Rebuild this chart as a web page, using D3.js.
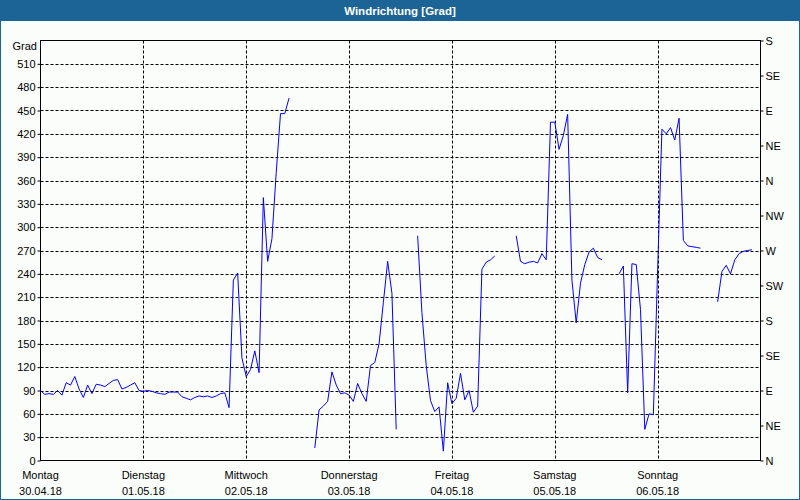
<!DOCTYPE html>
<html><head><meta charset="utf-8">
<script src="https://cdn.jsdelivr.net/npm/d3@7"></script>
<style>html,body{margin:0;padding:0;background:#fbfdfb;} svg{display:block}</style>
</head><body><svg id="c" width="800" height="500"></svg>
<script>
const title = "Windrichtung [Grad]";
const yUnit = "Grad";
const dayNames = ["Montag","Dienstag","Mittwoch","Donnerstag","Freitag","Samstag","Sonntag"];
const dayDates = ["30.04.18","01.05.18","02.05.18","03.05.18","04.05.18","05.05.18","06.05.18"];
const yTickValues = [0,30,60,90,120,150,180,210,240,270,300,330,360,390,420,450,480,510];
const compassValues = [0,45,90,135,180,225,270,315,360,405,450,495,540];
const compassLabels = ["N","NE","E","SE","S","SW","W","NW","N","NE","E","SE","S"];
const startDate = new Date(2018, 3, 30, 0, 0);
const dayCount = 7;
// hourly wind direction in degrees, null = no data
const windDirection = [
  90, 85, 86, 85, 90, 84, 100, 97, 108, 92,
  81, 97, 86, 98, 97, 95, 99, 103, 104, 92,
  94, 97, 100, 90, 89, 90, 89, 87, 86, 85,
  88, 88, 88, 82, 80, 78, 81, 83, 82, 83,
  81, 83, 86, 87, 68, 232, 241, 132, 108, 117,
  141, 113, 338, 256, 285, 370, 446, 446, 466, null,
  null, null, null, null, 16, 65, 70, 76, 114, 97,
  86, 87, 84, 76, 99, 86, 76, 122, 126, 150,
  203, 256, 215, 40, null, null, null, null, 289, 190,
  122, 77, 63, 69, 12, 100, 73, 80, 112, 78,
  90, 62, 70, 246, 255, 258, 263, null, null, null,
  null, 289, 256, 253, 255, 256, 254, 266, 258, 435,
  435, 400, 418, 445, 232, 177, 228, 252, 268, 273,
  261, 258, null, null, null, 240, 250, 87, 253, 252,
  194, 40, 60, 59, 245, 426, 420, 428, 412, 440,
  283, 276, 275, 274, 273, null, null, null, 204, 243,
  251, 240, 258, 266, 269, 270, 271, null
];

const W = 800, H = 500;
const font = "'Liberation Sans', Arial, sans-serif";
const svg = d3.select("#c");

// frame
svg.append("rect").attr("x",0).attr("y",0).attr("width",W).attr("height",H).attr("fill","#fbfdfb");
svg.append("rect").attr("x",0.5).attr("y",0.5).attr("width",W-1).attr("height",H-1)
  .attr("fill","none").attr("stroke","#1d6496");
svg.append("rect").attr("x",0).attr("y",0).attr("width",W).attr("height",21).attr("fill","#1d6496");
svg.append("text").attr("x",W/2).attr("y",11).attr("dy","0.36em").attr("text-anchor","middle")
  .attr("fill","#fff").attr("font-family",font).attr("font-weight","bold").attr("font-size","11.5px")
  .text(title);

const endDate = d3.timeDay.offset(startDate, dayCount);
const x = d3.scaleTime().domain([startDate, endDate]).range([40.5, 760.5]);
const y = d3.scaleLinear().domain([0, 540]).range([460.5, 40.5]);

const g = svg.append("g");
const dash = "3,2";

// horizontal gridlines
g.selectAll("line.hg").data(yTickValues.filter(v => v > 0)).join("line")
  .attr("x1", x.range()[0]).attr("x2", x.range()[1])
  .attr("y1", d => Math.round(y(d)) + 0.5).attr("y2", d => Math.round(y(d)) + 0.5)
  .attr("stroke","#000").attr("stroke-dasharray",dash);
// vertical gridlines
const days = d3.range(1, dayCount).map(i => d3.timeDay.offset(startDate, i));
g.selectAll("line.vg").data(days).join("line")
  .attr("x1", d => Math.round(x(d)) + 0.5).attr("x2", d => Math.round(x(d)) + 0.5)
  .attr("y1", y.range()[1]).attr("y2", y.range()[0])
  .attr("stroke","#000").attr("stroke-dasharray",dash);

// left axis
const leftAxis = d3.axisLeft(y).tickValues(yTickValues).tickSize(3).tickPadding(2);
const la = svg.append("g").attr("transform","translate(40.5,0)").call(leftAxis);
la.select(".domain").remove();
la.selectAll("text").attr("font-family",font).attr("font-size","11px").attr("fill","#000");
la.selectAll("line").attr("stroke","#000");
// right axis
const rightAxis = d3.axisRight(y).tickValues(compassValues).tickFormat((d,i) => compassLabels[i]).tickSize(3).tickPadding(2);
const ra = svg.append("g").attr("transform","translate(760.5,0)").call(rightAxis);
ra.select(".domain").remove();
ra.selectAll("text").attr("font-family",font).attr("font-size","11px").attr("fill","#000");
ra.selectAll("line").attr("stroke","#000");

// plot frame
svg.append("rect").attr("x",40.5).attr("y",40.5).attr("width",720).attr("height",420)
  .attr("fill","none").attr("stroke","#000");

svg.append("text").attr("x",37).attr("y",46).attr("dy","0.35em").attr("text-anchor","end")
  .attr("font-family",font).attr("font-size","11px").text(yUnit);

// bottom labels
const dayTicks = d3.range(0, dayCount).map(i => d3.timeDay.offset(startDate, i));
svg.selectAll("text.dn").data(dayTicks).join("text")
  .attr("x", d => x(d)).attr("y", 475).attr("dy","0.35em").attr("text-anchor","middle")
  .attr("font-family",font).attr("font-size","11px").text((d,i) => dayNames[i]);
svg.selectAll("text.dd").data(dayTicks).join("text")
  .attr("x", d => x(d)).attr("y", 491).attr("dy","0.35em").attr("text-anchor","middle")
  .attr("font-family",font).attr("font-size","11px").text((d,i) => dayDates[i]);

// data line
const pts = windDirection.map((v,i) => ({t: d3.timeHour.offset(startDate, i), v}));
const line = d3.line().defined(d => d.v != null).x(d => x(d.t)).y(d => y(d.v));
svg.append("path").datum(pts).attr("d", line).attr("fill","none").attr("stroke","#0000ff").attr("stroke-width",1);
</script></body></html>
